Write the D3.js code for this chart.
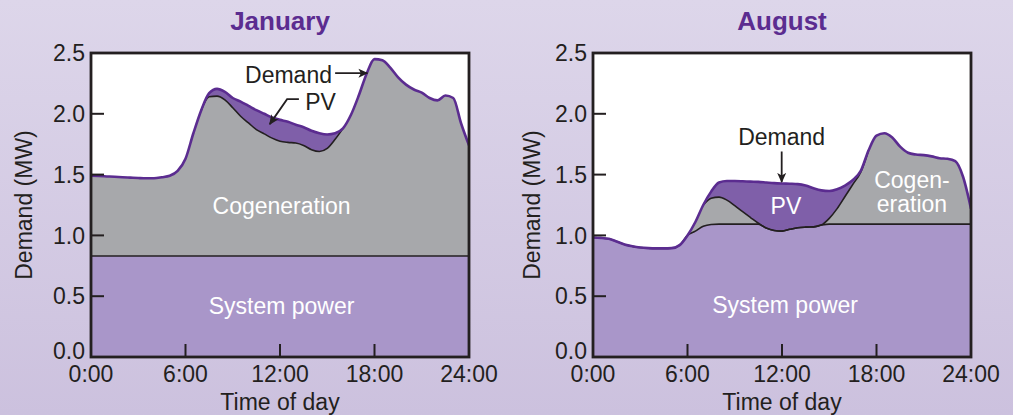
<!DOCTYPE html>
<html><head><meta charset="utf-8">
<script src="https://cdn.jsdelivr.net/npm/d3@7"></script>
<style>
html,body{margin:0;padding:0;}
body{width:1013px;height:415px;overflow:hidden;}
svg{display:block;font-family:"Liberation Sans",Arial,Helvetica,sans-serif;}
</style></head><body>
<svg id="chart" width="1013" height="415"></svg>
<script>
// ---------- data ----------
const hours = [0,0.5,1,1.5,2,2.5,3,3.5,4,4.5,5,5.5,6,6.5,7,7.5,8,8.5,9,9.5,10,10.5,11,11.5,12,
  12.5,13,13.5,14,14.5,15,15.5,16,16.5,17,17.5,18,18.5,19,19.5,20,20.5,21,21.5,22,22.5,23,23.5,24];

const janDemand = [1.49,1.488,1.485,1.482,1.478,1.475,1.472,1.47,1.47,1.478,1.49,1.53,1.63,1.84,2.03,2.17,2.205,2.18,2.13,2.10,2.065,2.03,2.00,1.97,1.95,
  1.935,1.91,1.89,1.86,1.84,1.83,1.84,1.88,1.99,2.15,2.33,2.45,2.44,2.38,2.30,2.24,2.20,2.175,2.13,2.11,2.15,2.13,1.92,1.74];
const janPV = [0,0,0,0,0,0,0,0,0,0,0,0,0,0,0,0.03,0.06,0.065,0.08,0.12,0.14,0.16,0.165,0.17,0.175,
  0.17,0.15,0.15,0.155,0.15,0.115,0.05,0,0,0,0,0,0,0,0,0,0,0,0,0,0,0,0,0];
const janSystem = [0.83,0.83,0.83,0.83,0.83,0.83,0.83,0.83,0.83,0.83,0.83,0.83,0.83,0.83,0.83,0.83,0.83,0.83,0.83,0.83,0.83,0.83,0.83,0.83,0.83,
  0.83,0.83,0.83,0.83,0.83,0.83,0.83,0.83,0.83,0.83,0.83,0.83,0.83,0.83,0.83,0.83,0.83,0.83,0.83,0.83,0.83,0.83,0.83,0.83];

const augDemand = [0.983,0.98,0.972,0.95,0.925,0.91,0.90,0.895,0.893,0.893,0.895,0.92,1.00,1.11,1.25,1.36,1.435,1.447,1.447,1.445,1.442,1.44,1.435,1.43,1.427,
  1.425,1.422,1.41,1.387,1.37,1.365,1.38,1.41,1.455,1.53,1.70,1.82,1.84,1.805,1.73,1.68,1.665,1.66,1.65,1.635,1.63,1.61,1.48,1.22];
const augPV = [0,0,0,0,0,0,0,0,0,0,0,0,0,0,0,0.055,0.12,0.157,0.202,0.25,0.295,0.34,0.375,0.39,0.392,
  0.375,0.359,0.342,0.317,0.285,0.225,0.16,0.09,0.035,0.01,0,0,0,0,0,0,0,0,0,0,0,0,0,0];
const augSystem = [0.983,0.98,0.972,0.95,0.925,0.91,0.90,0.895,0.893,0.893,0.895,0.92,1.00,1.035,1.075,1.09,1.093,1.093,1.093,1.093,1.093,1.093,1.06,1.04,1.035,
  1.05,1.063,1.068,1.07,1.085,1.093,1.093,1.093,1.093,1.093,1.093,1.093,1.093,1.093,1.093,1.093,1.093,1.093,1.093,1.093,1.093,1.093,1.093,1.093];

const panelTitles = ["January","August"];
const xTickValues = [0,6,12,18,24];
const xTickLabels = ["0:00","6:00","12:00","18:00","24:00"];
const yTickValues = [0,0.5,1,1.5,2,2.5];
const yTickLabels = ["0.0","0.5","1.0","1.5","2.0","2.5"];
const xAxisTitle = "Time of day";
const yAxisTitle = "Demand (MW)";

// ---------- style ----------
const C = {
  bg1:"#ddd6ea", bg2:"#ccc1de",
  system:"#a996c9", cogen:"#a7a8ab", pv:"#7f5fa9",
  demand:"#5b2c90", title:"#5b2c90", ink:"#231f20"
};
const FONT = 23;

const svg = d3.select("#chart");
const defs = svg.append("defs");
const grad = defs.append("linearGradient").attr("id","bg").attr("x1",0).attr("y1",0).attr("x2",0).attr("y2",1);
grad.append("stop").attr("offset","0%").attr("stop-color",C.bg1);
grad.append("stop").attr("offset","100%").attr("stop-color",C.bg2);
svg.append("rect").attr("width",1013).attr("height",415).attr("fill","url(#bg)");

const mk = defs.append("marker").attr("id","arrow").attr("viewBox","0 0 10 10")
  .attr("refX",9).attr("refY",5).attr("markerWidth",10).attr("markerHeight",10)
  .attr("markerUnits","userSpaceOnUse").attr("orient","auto");
mk.append("path").attr("d","M0,0.5 L10,5 L0,9.5 L2.5,5 Z").attr("fill",C.ink);

const panels = [
  {left:91, right:469, demand:janDemand, pv:janPV, system:janSystem, title:panelTitles[0], ytitleX:32},
  {left:593, right:971, demand:augDemand, pv:augPV, system:augSystem, title:panelTitles[1], ytitleX:540}
];
const plotTop = 53, plotBottom = 357;

panels.forEach((p, pi) => {
  const x = d3.scaleLinear().domain([0,24]).range([p.left, p.right]);
  const y = d3.scaleLinear().domain([0,2.5]).range([plotBottom, plotTop]);
  const rows = hours.map((h,i) => ({h, demand:p.demand[i], net:p.demand[i]-p.pv[i], system:p.system[i], pv:p.pv[i]}));
  const g = svg.append("g");
  const clipId = "clip"+pi;
  defs.append("clipPath").attr("id",clipId).append("rect")
    .attr("x",p.left).attr("y",plotTop).attr("width",p.right-p.left).attr("height",plotBottom-plotTop);

  g.append("rect").attr("x",p.left).attr("y",plotTop).attr("width",p.right-p.left).attr("height",plotBottom-plotTop).attr("fill","#fff");
  const plot = g.append("g").attr("clip-path",`url(#${clipId})`);
  const curve = d3.curveMonotoneX;
  const area = key => d3.area().x(d=>x(d.h)).y0(y(0)).y1(d=>y(d[key])).curve(curve);
  const line = key => d3.line().x(d=>x(d.h)).y(d=>y(d[key])).curve(curve);

  plot.append("path").datum(rows).attr("d",area("demand")).attr("fill",C.pv);
  plot.append("path").datum(rows).attr("d",area("net")).attr("fill",C.cogen);
  plot.append("path").datum(rows).attr("d",area("system")).attr("fill",C.system);
  plot.append("path").datum(rows).attr("d",line("system")).attr("fill","none").attr("stroke",C.ink).attr("stroke-width",1.6);
  plot.append("path").datum(rows)
    .attr("d",line("net").defined((d,i)=> d.pv>0 || (rows[i-1]&&rows[i-1].pv>0) || (rows[i+1]&&rows[i+1].pv>0)))
    .attr("fill","none").attr("stroke",C.ink).attr("stroke-width",1.6);
  plot.append("path").datum(rows).attr("d",line("demand")).attr("fill","none").attr("stroke",C.demand).attr("stroke-width",2.6).attr("stroke-linejoin","round");

  // ticks (inward)
  g.selectAll(".yt").data(yTickValues).enter().append("line")
    .attr("x1",p.left).attr("x2",p.left+13).attr("y1",d=>y(d)).attr("y2",d=>y(d))
    .attr("stroke",C.ink).attr("stroke-width",2);
  g.selectAll(".xt").data(xTickValues.slice(1,4)).enter().append("line")
    .attr("x1",d=>x(d)).attr("x2",d=>x(d)).attr("y1",plotBottom).attr("y2",plotBottom-13)
    .attr("stroke",C.ink).attr("stroke-width",2);
  // frame
  g.append("rect").attr("x",p.left).attr("y",plotTop).attr("width",p.right-p.left).attr("height",plotBottom-plotTop)
    .attr("fill","none").attr("stroke",C.ink).attr("stroke-width",2.8);

  // tick labels
  g.selectAll(".yl").data(yTickValues).enter().append("text")
    .attr("x",p.left-6).attr("y",(d)=>y(d) + (d===0 ? -6 : 0)).attr("dy","0.36em")
    .attr("text-anchor","end").attr("font-size",FONT).attr("fill",C.ink)
    .text((d,i)=>yTickLabels[i]);
  g.selectAll(".xl").data(xTickValues).enter().append("text")
    .attr("x",d=>x(d)).attr("y",382).attr("text-anchor","middle").attr("font-size",FONT).attr("fill",C.ink)
    .text((d,i)=>xTickLabels[i]);

  // axis titles
  g.append("text").attr("x",x(12)).attr("y",410).attr("text-anchor","middle").attr("font-size",FONT).attr("fill",C.ink).text(xAxisTitle);
  g.append("text").attr("transform",`translate(${p.ytitleX},${(plotTop+plotBottom)/2}) rotate(-90)`)
    .attr("text-anchor","middle").attr("font-size",FONT).attr("fill",C.ink).text(yAxisTitle);
  // title
  g.append("text").attr("x",x(12)).attr("y",30).attr("text-anchor","middle").attr("font-size",26)
    .attr("font-weight","bold").attr("fill",C.title).text(p.title);

  const white = (t, h, v) => g.append("text").attr("x",x(h)).attr("y",y(v)).attr("text-anchor","middle")
    .attr("font-size",FONT).attr("fill","#fff").text(t);

  if (pi === 0) {
    white("Cogeneration", 12.1, 1.175);
    white("System power", 12.1, 0.355);
    g.append("text").attr("x",x(15.3)).attr("y",y(2.255)).attr("text-anchor","end").attr("font-size",FONT).attr("fill",C.ink).text("Demand");
    g.append("line").attr("x1",x(15.5)).attr("y1",y(2.334)).attr("x2",x(17.55)).attr("y2",y(2.334))
      .attr("stroke",C.ink).attr("stroke-width",1.8).attr("marker-end","url(#arrow)");
    g.append("text").attr("x",x(13.6)).attr("y",y(2.03)).attr("text-anchor","start").attr("font-size",FONT).attr("fill",C.ink).text("PV");
    g.append("path").attr("d",`M${x(13.2)},${y(2.12)} L${x(12.45)},${y(2.12)} L${x(11.35)},${y(1.915)}`)
      .attr("fill","none").attr("stroke",C.ink).attr("stroke-width",1.8).attr("marker-end","url(#arrow)");
  } else {
    white("System power", 12.2, 0.36);
    white("PV", 12.25, 1.18);
    white("Cogen-", 20.25, 1.39);
    white("eration", 20.25, 1.19);
    g.append("text").attr("x",x(11.98)).attr("y",y(1.744)).attr("text-anchor","middle").attr("font-size",FONT).attr("fill",C.ink).text("Demand");
    g.append("line").attr("x1",x(11.98)).attr("y1",y(1.69)).attr("x2",x(11.98)).attr("y2",y(1.44))
      .attr("stroke",C.ink).attr("stroke-width",1.8).attr("marker-end","url(#arrow)");
  }
});
</script>
</body></html>
